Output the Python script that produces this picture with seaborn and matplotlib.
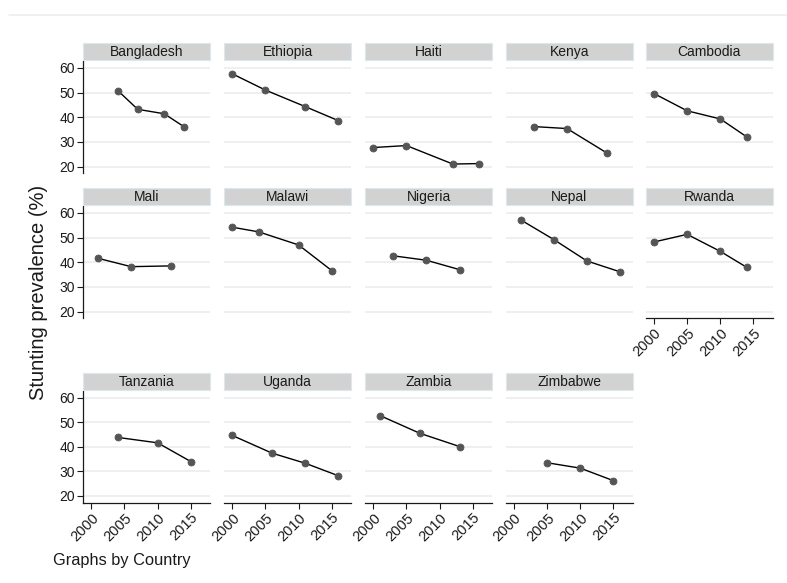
import matplotlib
matplotlib.use("Agg")
import matplotlib.pyplot as plt
from matplotlib.lines import Line2D
from matplotlib.patches import Rectangle
import pandas as pd
import seaborn as sns

# Survey rounds of child stunting prevalence by country
survey_country = (
    ["Bangladesh"] * 4 + ["Ethiopia"] * 4 + ["Haiti"] * 4 + ["Kenya"] * 3 +
    ["Cambodia"] * 4 + ["Mali"] * 3 + ["Malawi"] * 4 + ["Nigeria"] * 3 +
    ["Nepal"] * 4 + ["Rwanda"] * 4 + ["Tanzania"] * 3 + ["Uganda"] * 4 +
    ["Zambia"] * 3 + ["Zimbabwe"] * 3
)
survey_year = [
    2004, 2007, 2011, 2014,
    2000, 2005, 2011, 2016,
    2000, 2005, 2012, 2016,
    2003, 2008, 2014,
    2000, 2005, 2010, 2014,
    2001, 2006, 2012,
    2000, 2004, 2010, 2015,
    2003, 2008, 2013,
    2001, 2006, 2011, 2016,
    2000, 2005, 2010, 2014,
    2004, 2010, 2015,
    2000, 2006, 2011, 2016,
    2001, 2007, 2013,
    2005, 2010, 2015,
]
stunting_pct = [
    50.8, 43.2, 41.4, 36.1,
    57.6, 51.0, 44.3, 38.6,
    27.7, 28.5, 21.0, 21.2,
    36.2, 35.4, 25.5,
    49.6, 42.6, 39.3, 32.0,
    41.6, 38.2, 38.5,
    54.2, 52.3, 47.0, 36.6,
    42.6, 40.8, 37.0,
    57.2, 49.2, 40.5, 36.1,
    48.2, 51.3, 44.4, 37.9,
    43.8, 41.6, 34.0,
    44.6, 37.4, 33.3, 28.2,
    52.7, 45.5, 40.1,
    33.5, 31.3, 26.2,
]
panel_order = [
    "Bangladesh", "Ethiopia", "Haiti", "Kenya", "Cambodia",
    "Mali", "Malawi", "Nigeria", "Nepal", "Rwanda",
    "Tanzania", "Uganda", "Zambia", "Zimbabwe",
]
y_ticks = [20, 30, 40, 50, 60]
x_ticks = [2000, 2005, 2010, 2015]

df = pd.DataFrame({"country": survey_country, "year": survey_year,
                   "stunting": stunting_pct})

sns.set_theme(style="white")
plt.rcParams["font.family"] = ["Liberation Sans", "DejaVu Sans"]

W, H = 787, 583
fig = plt.figure(figsize=(W / 100, H / 100), dpi=100)
fig.patch.set_facecolor("white")

# panel geometry in pixels (top-left origin)
col_left = [83, 224, 365, 505.7, 645.7]
panel_w = 127
row_span = [(61, 173.3), (206, 318.3), (390.7, 502.7)]
strip_h = 17
ink = "#1a1a1a"

def fig_box(x0, y0, x1, y1):
    return [x0 / W, 1 - y1 / H, (x1 - x0) / W, (y1 - y0) / H]

for i, name in enumerate(panel_order):
    r, c = divmod(i, 5)
    top, bot = row_span[r]
    x0 = col_left[c]
    ax = fig.add_axes(fig_box(x0, top, x0 + panel_w, bot))
    sub = df[df["country"] == name]
    sns.lineplot(data=sub, x="year", y="stunting", ax=ax, color="black",
                 linewidth=1.0, marker="o", markersize=5.0,
                 markerfacecolor="#555555", markeredgecolor="#555555",
                 markeredgewidth=0.6, estimator=None, sort=True)
    ax.set_xlim(1998.75, 2017.9)
    ax.set_ylim(17.25, 62.8)
    ax.set_xlabel("")
    ax.set_ylabel("")
    ax.set_yticks(y_ticks)
    ax.set_xticks(x_ticks)
    for v in y_ticks:
        ax.axhline(v, color="#ececec", linewidth=1.2, zorder=0)
    for s in ax.spines.values():
        s.set_visible(False)

    is_left = c == 0
    is_bottom = i + 5 >= len(panel_order)
    if is_left:
        ax.spines["left"].set_visible(True)
        ax.spines["left"].set_color(ink)
        ax.spines["left"].set_linewidth(0.9)
        ax.tick_params(axis="y", left=True, length=4.5, width=0.8,
                       color=ink, labelsize=10, pad=1.2, labelcolor=ink)
    else:
        ax.tick_params(axis="y", left=False, labelleft=False)
    if is_bottom:
        ax.spines["bottom"].set_visible(True)
        ax.spines["bottom"].set_color(ink)
        ax.spines["bottom"].set_linewidth(0.9)
        ax.tick_params(axis="x", bottom=True, length=4.5, width=0.8,
                       color=ink, labelsize=10.5, pad=1.2, labelcolor=ink)
        for lab in ax.get_xticklabels():
            lab.set_rotation(45)
            lab.set_ha("right")
            lab.set_rotation_mode("anchor")
    else:
        ax.tick_params(axis="x", bottom=False, labelbottom=False)
    ax.set_facecolor("white")

    # panel title strip
    s_top = top - 1 - strip_h
    fig.add_artist(Rectangle((x0 / W, 1 - (top - 1) / H), panel_w / W,
                             strip_h / H, transform=fig.transFigure,
                             facecolor="#d2d2d2", edgecolor="#dde7ee",
                             linewidth=0.8))
    fig.text((x0 + panel_w / 2) / W, 1 - (s_top + strip_h / 2 + 0.5) / H,
             name, ha="center", va="center", fontsize=10, color=ink)

fig.text(39 / W, 1 - 292 / H, "Stunting prevalence (%)", rotation=90,
         ha="center", va="center", fontsize=14.5, color=ink)
fig.text(53 / W, 1 - 561 / H, "Graphs by Country", ha="left", va="center",
         fontsize=11.8, color=ink)

fig.add_artist(Line2D([9 / W, 1], [1 - 14.5 / H, 1 - 14.5 / H],
                      transform=fig.transFigure, color="#ececec",
                      linewidth=1.1))

fig.savefig("out.png", dpi=100, facecolor="white")
